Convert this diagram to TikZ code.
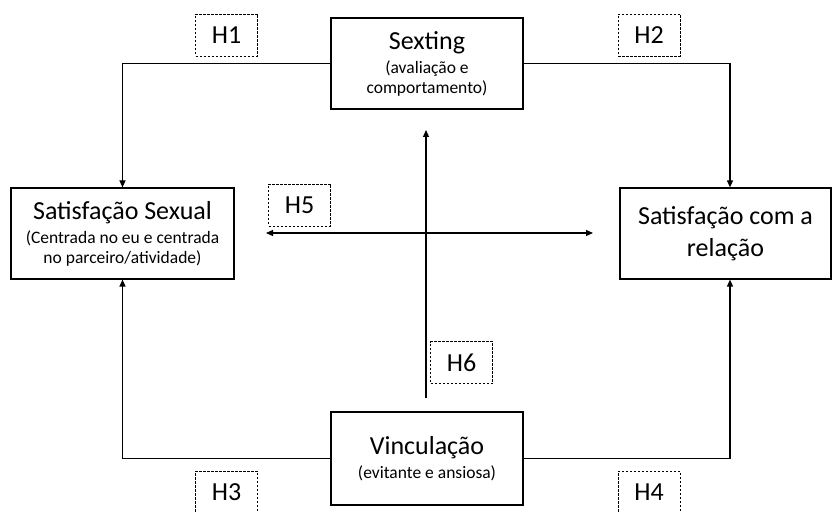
\documentclass[tikz,border=0pt]{standalone}
\usepackage{fontspec}
\setmainfont{Carlito}
\usetikzlibrary{arrows.meta}

\newcommand{\bigtxt}[1]{{\fontsize{26}{30}\selectfont #1}}

\begin{document}
\begin{tikzpicture}[x=1pt,y=-1pt,
        box/.style={draw,line width=1.2pt,align=center,inner sep=0pt,font=\fontsize{17.5}{20}\selectfont},
        hyp/.style={draw,dash pattern=on 2.5pt off 1.5pt,line width=0.8pt,minimum width=62pt,minimum height=42pt,font=\fontsize{26}{28}\selectfont},
        link/.style={line width=1.2pt,-{Triangle[length=7pt,width=6pt]}}]

    \clip (0,0) rectangle (833,513);
    \useasboundingbox (0,0) rectangle (833,513);

    % variaveis
    \node[box,minimum width=192pt,minimum height=91pt] (sexting) at (427,63.5)
        {\bigtxt{Sexting}\\[4pt](avaliação e\\comportamento)};
    \node[box,minimum width=223pt,minimum height=91pt] (satsex) at (122.5,233.5)
        {\bigtxt{Satisfação Sexual}\\[4pt](Centrada no eu e centrada\\no parceiro/atividade)};
    \node[box,minimum width=211pt,minimum height=91pt,font=\fontsize{26}{32}\selectfont] (satrel) at (725.5,233.5)
        {Satisfação com a\\relação};
    \node[box,minimum width=192pt,minimum height=93pt] (vinc) at (427,458.5)
        {\bigtxt{Vinculação}\\[4pt](evitante e ansiosa)};

    % hipoteses
    \node[hyp] (h1) at (226.5,35) {H1};
    \node[hyp] (h2) at (649,35) {H2};
    \node[hyp] (h3) at (226.5,492) {H3};
    \node[hyp] (h4) at (649,492) {H4};
    \node[hyp] (h5) at (299.5,205) {H5};
    \node[hyp] (h6) at (461.5,362.5) {H6};

    \coordinate (h5l) at (266,233);
    \coordinate (h5r) at (593,233);
    \coordinate (h6b) at (426,398);
    \coordinate (h6t) at (426,130);

    \draw[link] (sexting.west) -| (satsex.north);
    \draw[link] (sexting.east) -| ([xshift=4.5pt]satrel.north);
    \draw[link] (vinc.west) -| (satsex.south);
    \draw[link] (vinc.east) -| ([xshift=4.5pt]satrel.south);
    \draw[link,{Triangle[length=7pt,width=6pt]}-{Triangle[length=7pt,width=6pt]}] (h5l) -- (h5r);
    \draw[link] (h6b) -- (h6t);
\end{tikzpicture}
\end{document}
